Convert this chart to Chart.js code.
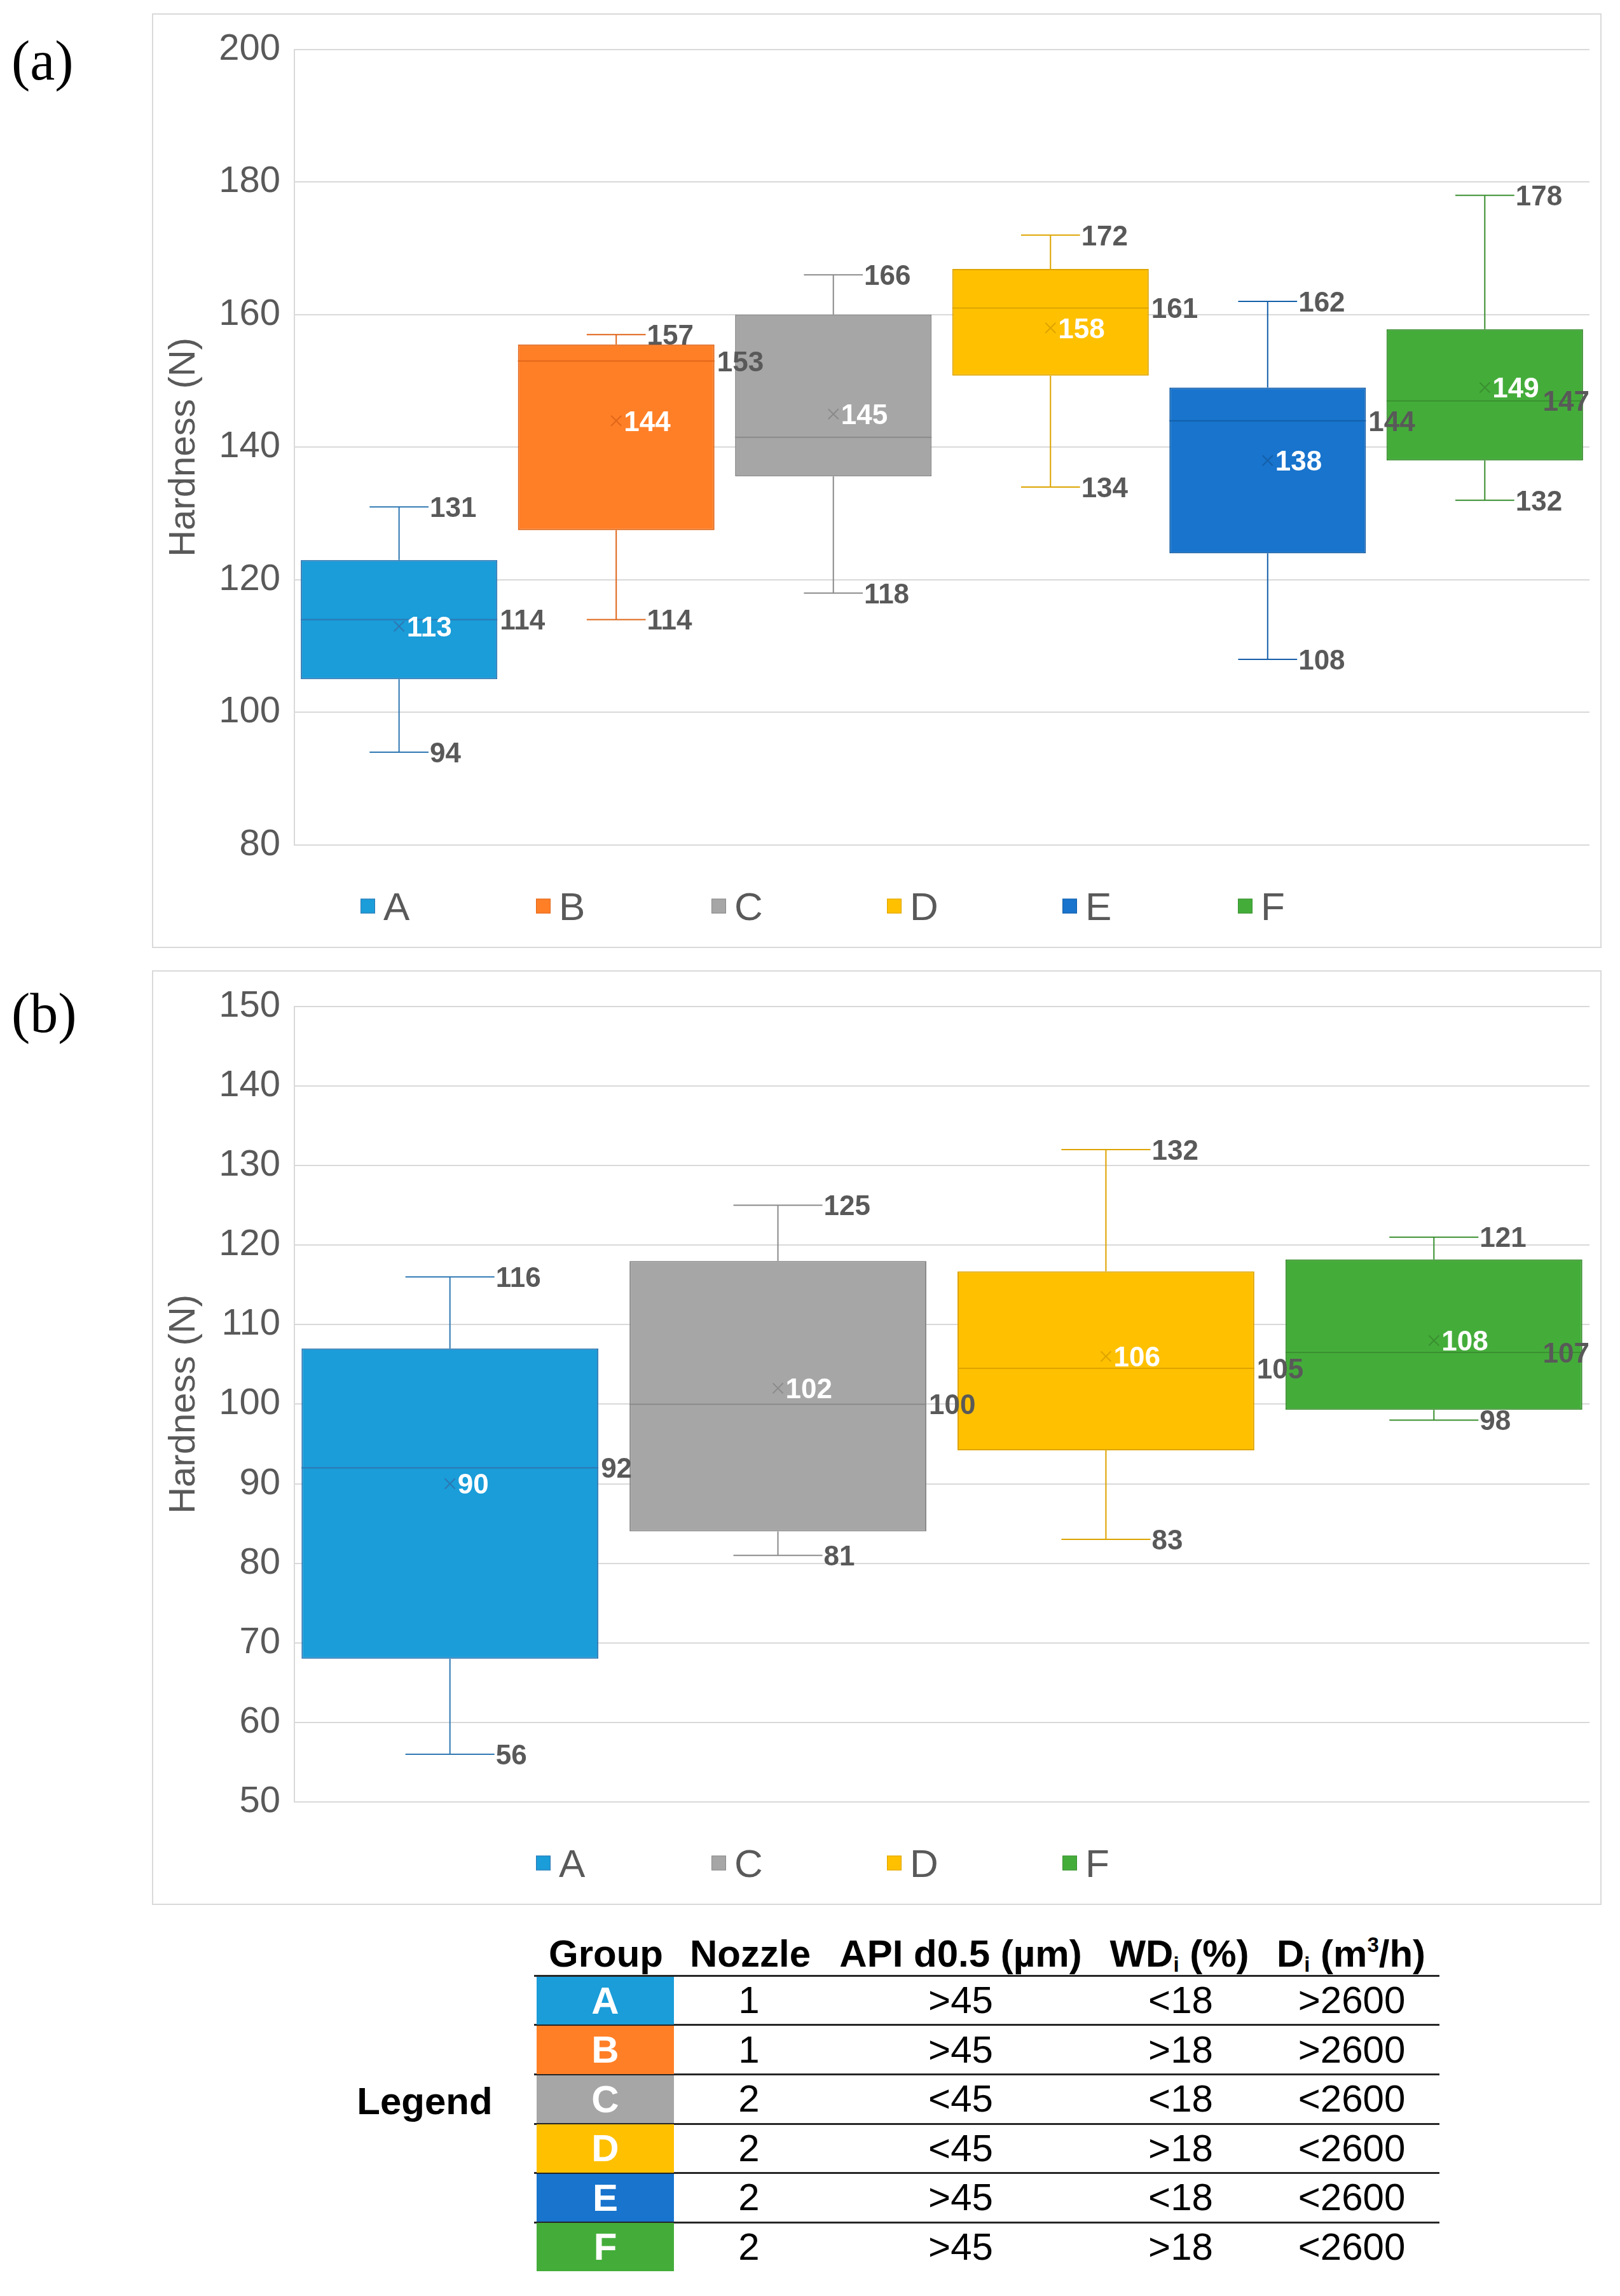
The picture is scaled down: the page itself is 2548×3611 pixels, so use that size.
<!DOCTYPE html>
<html>
<head>
<meta charset="utf-8">
<script src="https://cdn.jsdelivr.net/npm/chart.js@4.4.0/dist/chart.umd.min.js"></script>
<style>
  body { margin: 0; background: #fff; width: 2548px; height: 3611px; position: relative; font-family: 'Liberation Sans', Arial, sans-serif; }
  canvas { position: absolute; left: 239px; }
  #chartA { top: 21px; }
  #chartB { top: 1526px; }
  .tag { position: absolute; left: 18px; font-family: 'Liberation Serif', 'Times New Roman', serif; font-size: 88px; line-height: 1; color: #000; }
  .hline { position: absolute; left: 840px; width: 1424px; height: 3px; background: #262626; }
  .cell { position: absolute; width: 320px; text-align: center; font-size: 60px; color: #000; line-height: 77.5px; white-space: nowrap; }
  .head { position: absolute; width: 440px; text-align: center; font-size: 60px; font-weight: bold; color: #000; line-height: 60px; white-space: nowrap; }
  .grp { position: absolute; left: 844px; width: 216px; text-align: center; font-size: 60px; font-weight: bold; color: #fff; line-height: 75.5px; }
  sub { font-size: 0.55em; vertical-align: -0.25em; line-height: 0; }
  sup { font-size: 0.55em; vertical-align: 0.7em; line-height: 0; }
</style>
</head>
<body>
<div class="tag" style="top:52px">(a)</div>
<div class="tag" style="top:1550px">(b)</div>
<canvas id="chartA" width="2280" height="1470"></canvas>
<canvas id="chartB" width="2280" height="1470"></canvas>
<div id="table"></div>
<script>
// panel (a)
const groupsA = ['A', 'B', 'C', 'D', 'E', 'F'];
const minA = [94, 114, 118, 134, 108, 132];
const q1A = [105, 127.5, 135.6, 150.8, 124, 138];
const medianA = [114, 153, 141.5, 161, 144, 147];
const q3A = [123, 155.5, 160, 166.9, 149, 157.8];
const maxA = [131, 157, 166, 172, 162, 178];
const meanA = [113, 144, 145, 158, 138, 149];
const medLabelA = [true, true, false, true, true, true];
const ticksA = { min: 80, max: 200, step: 20 };

// panel (b)
const groupsB = ['A', 'C', 'D', 'F'];
const minB = [56, 81, 83, 98];
const q1B = [68, 84, 94.2, 99.3];
const medianB = [92, 100, 104.5, 106.5];
const q3B = [107, 118, 116.7, 118.2];
const maxB = [116, 125, 132, 121];
const meanB = [90, 102, 106, 108];
const medLabelB = [true, true, true, true];
const ticksB = { min: 50, max: 150, step: 10 };

// legend table
const tableGroups = ['A', 'B', 'C', 'D', 'E', 'F'];
const nozzle = ['1', '1', '2', '2', '2', '2'];
const apiD05 = ['>45', '>45', '<45', '<45', '>45', '>45'];
const wdi = ['<18', '>18', '<18', '>18', '<18', '>18'];
const di = ['>2600', '>2600', '<2600', '<2600', '<2600', '<2600'];

const fillColor = { A: '#1A9DD9', B: '#FF7F27', C: '#A6A6A6', D: '#FFC000', E: '#1874CD', F: '#44AD3A' };
const lineColor = { A: '#2E77B2', B: '#E0661A', C: '#8A8A8A', D: '#DDA400', E: '#155FA8', F: '#3A8F30' };

Chart.defaults.font.family = "'Liberation Sans', Arial, Helvetica, sans-serif";
Chart.defaults.color = '#595959';

const boxPlugin = {
    id: 'boxWhisker',
    beforeDraw(chart) {
        const ctx = chart.ctx;
        ctx.save();
        ctx.strokeStyle = '#D9D9D9';
        ctx.lineWidth = 2;
        ctx.strokeRect(1, 1, chart.width - 2, chart.height - 2);
        ctx.restore();
    },
    afterDatasetsDraw(chart) {
        const ctx = chart.ctx;
        const y = chart.scales.y;
        const sets = chart.data.datasets;
        ctx.save();
        // whiskers, medians, means
        sets.forEach((ds, i) => {
            const bar = chart.getDatasetMeta(i).data[0];
            const s = ds.stats;
            const half = bar.width / 2;
            const cap = bar.width * 0.15;
            ctx.strokeStyle = ds.borderColor;
            ctx.lineWidth = 2;
            ctx.beginPath();
            ctx.moveTo(bar.x, y.getPixelForValue(s.q3));
            ctx.lineTo(bar.x, y.getPixelForValue(s.max));
            ctx.moveTo(bar.x - cap, y.getPixelForValue(s.max));
            ctx.lineTo(bar.x + cap, y.getPixelForValue(s.max));
            ctx.moveTo(bar.x, y.getPixelForValue(s.q1));
            ctx.lineTo(bar.x, y.getPixelForValue(s.min));
            ctx.moveTo(bar.x - cap, y.getPixelForValue(s.min));
            ctx.lineTo(bar.x + cap, y.getPixelForValue(s.min));
            ctx.moveTo(bar.x - half, y.getPixelForValue(s.median));
            ctx.lineTo(bar.x + half, y.getPixelForValue(s.median));
            ctx.stroke();
            const my = y.getPixelForValue(s.mean);
            ctx.beginPath();
            ctx.moveTo(bar.x - 8, my - 8);
            ctx.lineTo(bar.x + 8, my + 8);
            ctx.moveTo(bar.x + 8, my - 8);
            ctx.lineTo(bar.x - 8, my + 8);
            ctx.stroke();
        });
        // data labels on top of everything
        const size = 44;
        ctx.font = 'bold ' + size + 'px ' + Chart.defaults.font.family;
        ctx.textAlign = 'left';
        ctx.textBaseline = 'alphabetic';
        const capShift = size * 0.36;
        const put = (val, x, py, color) => {
            const txt = String(Math.round(val));
            const w = ctx.measureText(txt).width;
            x = Math.min(x, chart.chartArea.right - w);
            ctx.fillStyle = color;
            ctx.fillText(txt, x, py + capShift);
        };
        sets.forEach((ds, i) => {
            const bar = chart.getDatasetMeta(i).data[0];
            const s = ds.stats;
            const cap = bar.width * 0.15;
            put(s.max, bar.x + cap + 2, y.getPixelForValue(s.max), '#595959');
            put(s.min, bar.x + cap + 2, y.getPixelForValue(s.min), '#595959');
            if (s.showMedian) put(s.median, bar.x + bar.width / 2 + 4, y.getPixelForValue(s.median), '#595959');
            put(s.mean, bar.x + 12, y.getPixelForValue(s.mean), '#FFFFFF');
        });
        ctx.restore();
    },
    afterDraw(chart) {
        // legend row under the plot, equal cells like the original
        const ctx = chart.ctx;
        const sets = chart.data.datasets;
        const pitch = 276;
        const cy = 1404;
        let x = chart.width / 2 - sets.length * pitch / 2 + 16;
        ctx.save();
        ctx.font = '62px ' + Chart.defaults.font.family;
        ctx.textBaseline = 'alphabetic';
        ctx.textAlign = 'left';
        sets.forEach(ds => {
            ctx.fillStyle = ds.backgroundColor;
            ctx.fillRect(x, cy - 11.5, 23, 23);
            ctx.strokeStyle = ds.borderColor;
            ctx.lineWidth = 1;
            ctx.strokeRect(x + 0.5, cy - 11, 22, 22);
            ctx.fillStyle = '#595959';
            ctx.fillText(ds.label, x + 36, cy + 62 * 0.36);
            x += pitch;
        });
        ctx.restore();
    }
};

function makeBoxChart(id, groups, mins, q1s, medians, q3s, maxs, means, showMed, ticks, catPct) {
    const datasets = groups.map((g, i) => ({
        label: g,
        data: [[q1s[i], q3s[i]]],
        backgroundColor: fillColor[g],
        borderColor: lineColor[g],
        borderWidth: 2,
        borderSkipped: false,
        stats: { min: mins[i], q1: q1s[i], median: medians[i], q3: q3s[i], max: maxs[i], mean: means[i], showMedian: showMed[i] }
    }));
    return new Chart(document.getElementById(id), {
        type: 'bar',
        data: { labels: [''], datasets: datasets },
        options: {
            responsive: false,
            animation: false,
            layout: { padding: { left: 0, right: 19, top: 50, bottom: 162 } },
            datasets: { bar: { categoryPercentage: catPct, barPercentage: 0.905 } },
            scales: {
                x: { display: false },
                y: {
                    min: ticks.min,
                    max: ticks.max,
                    afterFit: scale => { scale.width = 224; },
                    ticks: { stepSize: ticks.step, padding: 22, color: '#595959', font: { size: 58 } },
                    grid: { color: '#D9D9D9', lineWidth: 2, drawTicks: false },
                    border: { display: true, color: '#D9D9D9', width: 2 },
                    title: { display: true, text: 'Hardness (N)', color: '#595959', font: { size: 58 }, padding: { top: 16, bottom: 0 } }
                }
            },
            plugins: { legend: { display: false }, tooltip: { enabled: false } }
        },
        plugins: [boxPlugin]
    });
}

makeBoxChart('chartA', groupsA, minA, q1A, medianA, q3A, maxA, meanA, medLabelA, ticksA, 1.006);
makeBoxChart('chartB', groupsB, minB, q1B, medianB, q3B, maxB, meanB, medLabelB, ticksB, 1.013);

// legend table below the charts
const table = document.getElementById('table');
const lineYs = [3107, 3184.5, 3262, 3340, 3417.5, 3495];
const colCenters = [1178, 1511, 1857, 2126];
const headers = [
    ['Group', 953], ['Nozzle', 1180], ['API d0.5 (\u00b5m)', 1511],
    ['WD<sub>i</sub> (%)', 1855], ['D<sub>i</sub> (m<sup>3</sup>/h)', 2125]
];
let html = '';
headers.forEach(([t, cx]) => {
    html += `<div class="head" style="left:${cx - 220}px;top:3043px">${t}</div>`;
});
html += `<div class="head" style="left:${668 - 220}px;top:3275px">Legend</div>`;
lineYs.forEach(ly => {
    html += `<div class="hline" style="top:${ly - 1.5}px"></div>`;
});
tableGroups.forEach((g, i) => {
    const top = lineYs[0] + 77.5 * i;
    html += `<div class="grp" style="top:${top + 1.5}px;height:75.5px;background:${fillColor[g]}">${g}</div>`;
    [nozzle[i], apiD05[i], wdi[i], di[i]].forEach((v, j) => {
        const txt = v.replace('<', '&lt;').replace('>', '&gt;');
        html += `<div class="cell" style="left:${colCenters[j] - 160}px;top:${top}px">${txt}</div>`;
    });
});
table.innerHTML = html;
</script>
</body>
</html>
